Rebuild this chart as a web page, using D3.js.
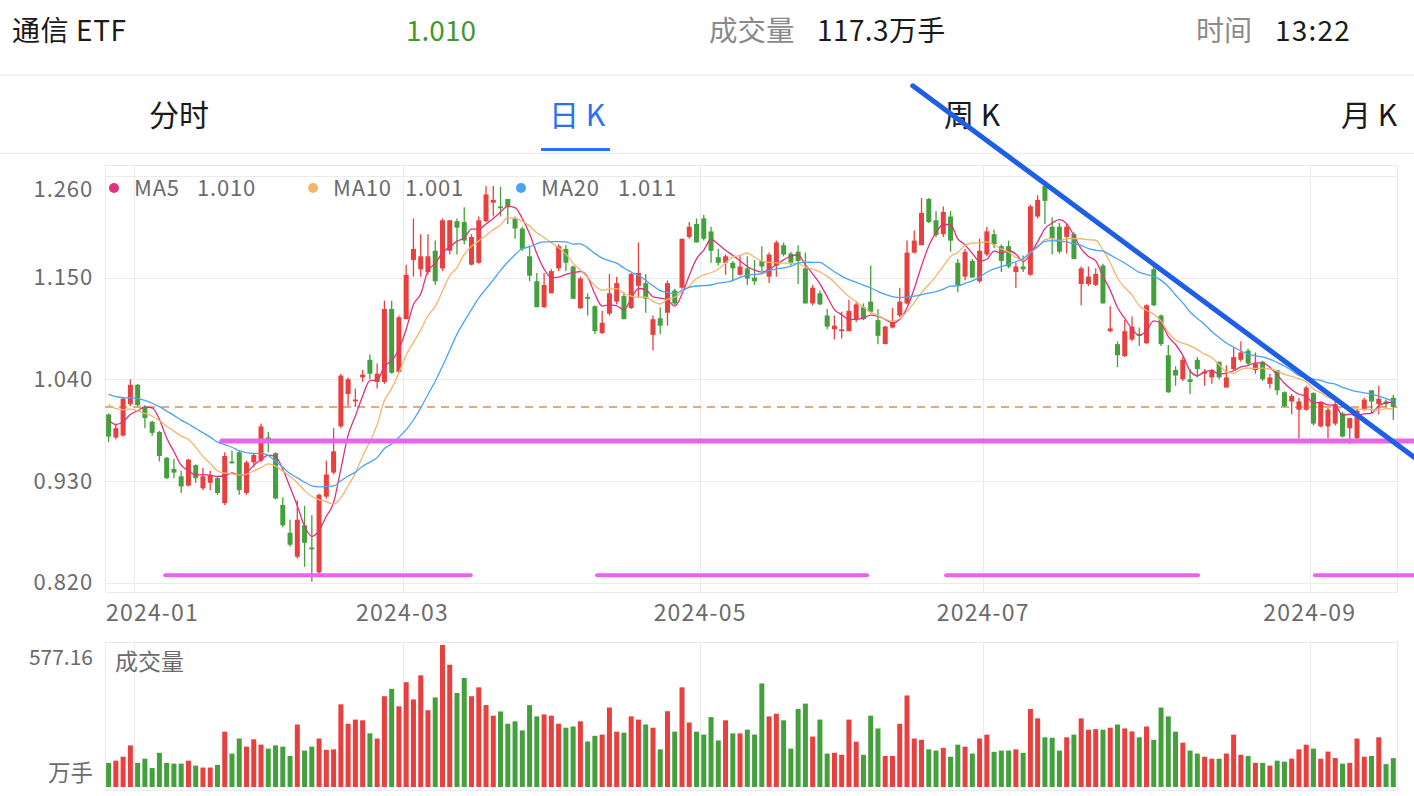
<!DOCTYPE html>
<html><head><meta charset="utf-8">
<script src="https://cdn.jsdelivr.net/npm/d3@7"></script>
<style>
html,body{margin:0;padding:0;background:#fff;}
svg{display:block;font-family:"Noto Sans CJK SC","Noto Sans",sans-serif;}
</style></head><body>
<svg id="chart" width="1414" height="796"></svg>
<script>
// ---------- data ----------
const open  = [1.002,0.977,0.979,1.013,1.034,1.010,0.994,0.983,0.955,0.943,0.935,0.925,0.947,0.922,0.928,0.933,
 0.906,0.951,0.961,0.917,0.950,0.952,0.977,0.960,0.904,0.874,0.848,0.882,0.858,0.831,0.913,0.939,0.989,
 1.024,1.016,1.042,1.061,1.037,1.037,1.116,1.048,1.105,1.169,1.159,1.156,1.179,1.160,1.179,1.211,
 1.210,1.164,1.166,1.211,1.231,1.227,1.235,1.214,1.203,1.173,1.146,1.118,1.133,1.160,1.181,1.162,1.117,
 1.129,1.119,1.090,1.111,1.124,1.130,1.117,1.141,1.144,1.088,1.106,1.112,1.136,1.139,1.194,1.208,
 1.214,1.200,1.172,1.166,1.166,1.153,1.160,1.150,1.168,1.151,1.163,1.185,1.176,1.178,1.160,1.122,1.133,
 1.109,1.094,1.092,1.092,1.105,1.118,1.124,1.104,1.078,1.096,1.109,1.122,1.177,1.185,1.235,1.212,
 1.197,1.216,1.166,1.151,1.168,1.146,1.175,1.197,1.184,1.184,1.156,1.162,1.153,1.216,1.249,1.205,1.205,
 1.194,1.197,1.143,1.143,1.142,1.163,1.092,1.078,1.065,1.083,1.089,1.079,1.159,1.109,1.066,1.050,
 1.040,1.040,1.061,1.046,1.042,1.059,1.031,1.051,1.061,1.071,1.050,1.059,1.035,1.050,1.026,1.016,1.007,
 1.007,1.025,0.989,0.989,0.992,1.003,0.987,0.976,1.007,1.028,1.013,1.016,1.020];
const high  = [1.003,0.992,1.021,1.040,1.035,1.012,0.995,0.984,0.956,0.954,0.941,0.954,0.948,0.944,0.941,0.935,
 0.961,0.963,0.963,0.952,0.959,0.992,0.983,0.961,0.912,0.888,0.909,0.903,0.893,0.916,0.952,0.987,1.046,
 1.042,1.030,1.050,1.067,1.057,1.125,1.125,1.109,1.164,1.214,1.197,1.197,1.190,1.214,1.212,1.214,
 1.226,1.197,1.216,1.249,1.249,1.248,1.235,1.216,1.205,1.184,1.155,1.155,1.159,1.186,1.185,1.163,1.151,
 1.133,1.120,1.114,1.154,1.151,1.134,1.155,1.188,1.154,1.109,1.118,1.147,1.138,1.192,1.210,1.214,
 1.218,1.205,1.181,1.175,1.168,1.173,1.173,1.169,1.184,1.177,1.190,1.188,1.178,1.185,1.177,1.142,1.136,
 1.116,1.109,1.113,1.126,1.123,1.122,1.163,1.116,1.098,1.117,1.139,1.190,1.201,1.236,1.236,1.222,
 1.227,1.222,1.170,1.181,1.170,1.192,1.205,1.202,1.186,1.190,1.166,1.174,1.229,1.239,1.251,1.215,1.209,
 1.208,1.199,1.162,1.162,1.160,1.165,1.119,1.081,1.104,1.108,1.096,1.121,1.162,1.110,1.077,1.054,
 1.064,1.051,1.064,1.051,1.051,1.059,1.055,1.074,1.081,1.073,1.069,1.060,1.046,1.050,1.027,1.024,1.020,
 1.033,1.026,1.016,1.009,1.022,1.005,0.998,1.008,1.020,1.028,1.033,1.018,1.023];
const low   = [0.972,0.975,0.978,1.011,1.011,0.987,0.979,0.951,0.932,0.933,0.917,0.924,0.928,0.920,0.920,0.915,
 0.904,0.949,0.915,0.915,0.945,0.950,0.961,0.910,0.880,0.859,0.846,0.837,0.821,0.829,0.911,0.937,0.987,
 1.011,1.010,1.037,1.040,1.030,1.035,1.046,1.047,1.105,1.151,1.151,1.153,1.142,1.157,1.175,1.175,
 1.186,1.163,1.165,1.210,1.216,1.216,1.208,1.192,1.179,1.146,1.118,1.117,1.133,1.157,1.157,1.127,1.116,
 1.109,1.089,1.089,1.109,1.121,1.105,1.116,1.129,1.112,1.071,1.089,1.098,1.120,1.138,1.192,1.188,
 1.190,1.166,1.163,1.153,1.147,1.152,1.142,1.142,1.157,1.144,1.151,1.173,1.163,1.143,1.122,1.120,1.120,
 1.094,1.083,1.084,1.092,1.102,1.104,1.111,1.078,1.078,1.095,1.107,1.121,1.176,1.185,1.209,1.194,
 1.194,1.178,1.134,1.147,1.150,1.144,1.173,1.182,1.156,1.160,1.139,1.156,1.152,1.214,1.208,1.175,1.176,
 1.176,1.170,1.120,1.141,1.141,1.122,1.091,1.053,1.064,1.081,1.076,1.078,1.119,1.076,1.025,1.033,
 1.038,1.024,1.042,1.033,1.035,1.040,1.031,1.050,1.059,1.055,1.046,1.038,1.030,1.023,1.010,1.002,0.976,
 1.006,0.990,0.988,0.976,0.990,0.977,0.970,0.975,1.006,1.003,1.002,1.010,0.996];
const close = [0.978,0.987,1.019,1.034,1.012,0.998,0.982,0.957,0.933,0.939,0.924,0.953,0.933,0.935,0.936,0.917,
 0.957,0.949,0.920,0.950,0.958,0.989,0.973,0.911,0.882,0.861,0.888,0.863,0.856,0.915,0.937,0.962,1.044,
 1.040,1.018,1.045,1.046,1.046,1.116,1.047,1.107,1.153,1.181,1.173,1.173,1.146,1.212,1.212,1.204,
 1.190,1.194,1.212,1.240,1.234,1.225,1.226,1.203,1.181,1.152,1.118,1.142,1.157,1.184,1.166,1.127,1.149,
 1.127,1.092,1.101,1.133,1.144,1.105,1.154,1.155,1.127,1.105,1.098,1.144,1.122,1.192,1.205,1.188,
 1.192,1.179,1.166,1.173,1.160,1.162,1.149,1.146,1.162,1.175,1.188,1.175,1.166,1.168,1.122,1.139,1.121,
 1.097,1.098,1.094,1.114,1.121,1.105,1.113,1.087,1.097,1.102,1.124,1.177,1.190,1.220,1.210,1.196,
 1.221,1.190,1.142,1.178,1.150,1.179,1.200,1.186,1.168,1.162,1.162,1.159,1.227,1.234,1.233,1.192,1.178,
 1.205,1.170,1.160,1.151,1.154,1.122,1.095,1.066,1.092,1.097,1.087,1.120,1.120,1.078,1.026,1.044,
 1.061,1.037,1.051,1.048,1.050,1.042,1.042,1.064,1.069,1.057,1.057,1.040,1.042,1.028,1.011,1.022,1.016,
 1.031,0.992,1.015,1.007,1.013,0.978,0.998,1.006,1.018,1.016,1.019,1.013,1.010];
const volume = [98,107,123,169,98,115,77,139,98,95,95,107,87,79,79,90,
 225,136,197,164,194,172,156,169,164,126,254,148,164,197,151,153,336,
 257,274,271,218,197,369,399,328,426,356,454,312,364,577.16,497,382,
 443,369,405,333,290,307,257,267,230,333,287,295,290,257,241,246,267,
 185,208,213,323,225,221,287,274,254,241,153,308,225,405,262,225,
 213,284,189,271,218,218,233,213,421,287,298,271,156,317,339,205,274,
 136,139,131,274,184,131,290,238,126,126,257,372,197,192,153,148,
 159,123,172,164,136,197,213,143,148,148,153,139,317,279,202,200,148,
 202,213,279,233,235,233,241,254,238,226,202,246,192,323,287,225,
 180,148,136,123,115,115,136,213,131,126,98,98,87,107,103,115,153,
 172,156,115,144,118,95,98,197,123,126,202,93,117.3];
// closes before the first visible day, used only to warm up the moving averages
const priorCloses = [1.045,1.040,1.038,1.030,1.036,1.042,1.034,1.028,1.030,1.027,
 1.035,1.031,1.028,1.030,1.026,1.012,1.004,0.995,0.991];

const tickIdx    = [4,41,82,121,166];
const tickLabels = ["2024-01","2024-03","2024-05","2024-07","2024-09"];
const priceTicks = [0.820,0.930,1.040,1.150,1.260];
const maPeriods  = [5,10,20];
const maNames    = ["MA5","MA10","MA20"];
const maLegendValues = ["1.010","1.001","1.011"];
const lastPrice  = 1.010;
const volMax     = 577.16;

// hand-drawn annotation lines (index, price)
const supportLine  = {from:15.6, to:180, price:0.9732};
const bottomSegs   = [[7.8,49.9],[67.3,104.5],[115.4,150.1],[166.2,180]];
const bottomPrice  = 0.828;
const trendLine    = [[110.8,1.3575],[180,0.9549]];

// header
const headerName = "通信 ETF", headerPrice = "1.010", volLabel = "成交量", volValue = "117.3万手", timeLabel = "时间", timeValue = "13:22";
const tabs = ["分时","日 K","周 K","月 K"];
const activeTab = 1;

// ---------- drawing ----------
const svg = d3.select("#chart");
const W = 1414;
const L = 105, R = 1397, PT = 165, PB = 592, VT = 642, VB = 790;
const RED = "#e8403f", GREEN = "#43a03c";
const C_MA = ["#e0307c","#f2b56a","#4aa3f3"];

const x = d3.scaleLinear().domain([0,177]).range([108.6,1393.3]);
const y = d3.scaleLinear().domain([0.82,1.26]).range([582.6,175.9]);
const yv = d3.scaleLinear().domain([0,volMax]).range([787,645]);

// header
const hdr = svg.append("g");
hdr.append("text").attr("x",12).attr("y",41).attr("font-size",28).attr("letter-spacing",0.6).attr("fill","#1a1a1a").text(headerName);
hdr.append("text").attr("x",441).attr("y",41).attr("text-anchor","middle").attr("font-size",28).attr("fill","#3f9a2b").text(headerPrice);
hdr.append("text").attr("x",709).attr("y",41).attr("font-size",28.5).attr("fill","#8a8a8a").text(volLabel);
hdr.append("text").attr("x",817).attr("y",41).attr("font-size",28).attr("letter-spacing",0.4).attr("fill","#1a1a1a").text(volValue);
hdr.append("text").attr("x",1196).attr("y",41).attr("font-size",28).attr("fill","#8a8a8a").text(timeLabel);
hdr.append("text").attr("x",1275).attr("y",41).attr("font-size",28).attr("letter-spacing",1.2).attr("fill","#1a1a1a").text(timeValue);
hdr.append("line").attr("x1",0).attr("x2",W).attr("y1",75).attr("y2",75).attr("stroke","#ededed").attr("stroke-width",1.5);

const tabCenters = [179,577,972,1369];
tabs.forEach((t,i)=>{
  hdr.append("text").attr("x",tabCenters[i]).attr("y",126).attr("text-anchor","middle")
    .attr("font-size",30).attr("fill", i===activeTab ? "#2a6ff5" : "#1a1a1a").text(t);
});
hdr.append("rect").attr("x",541).attr("y",148).attr("width",69).attr("height",3).attr("fill","#2a6ff5");
hdr.append("line").attr("x1",0).attr("x2",W).attr("y1",153.5).attr("y2",153.5).attr("stroke","#ededed").attr("stroke-width",1.5);

// price panel frame and grid
const grid = svg.append("g").attr("stroke","#ebebeb").attr("stroke-width",1);
grid.append("rect").attr("x",L+0.5).attr("y",PT+0.5).attr("width",R-L).attr("height",PB-PT).attr("fill","none");
priceTicks.forEach(p=>{
  grid.append("line").attr("x1",L).attr("x2",R).attr("y1",Math.round(y(p))+0.5).attr("y2",Math.round(y(p))+0.5);
});
tickIdx.forEach(i=>{
  const gx = Math.round(x(i-0.5))+0.5;
  grid.append("line").attr("x1",gx).attr("x2",gx).attr("y1",PT).attr("y2",PB);
  grid.append("line").attr("x1",gx).attr("x2",gx).attr("y1",VT).attr("y2",VB);
});
grid.append("rect").attr("x",L+0.5).attr("y",VT+0.5).attr("width",R-L).attr("height",VB-VT).attr("fill","none");

// y labels
const axisG = svg.append("g").attr("fill","#6b6b6b");
priceTicks.forEach(p=>{
  let cy = y(p);
  if (cy < 189) cy = 189;
  axisG.append("text").attr("x",93).attr("y",cy).attr("dy","0.35em").attr("text-anchor","end")
    .attr("font-size",22).attr("letter-spacing",0.9).text(p.toFixed(3));
});
// x labels (clamped inside the panel)
tickIdx.forEach((i,k)=>{
  const t = axisG.append("text").attr("y",613).attr("dy","0.35em").attr("text-anchor","middle")
    .attr("font-size",23).attr("letter-spacing",1.2).text(tickLabels[k]);
  const w = t.node().getComputedTextLength();
  let cx = x(i-0.5);
  if (cx - w/2 < L+1) cx = L+1+w/2;
  t.attr("x",cx);
});
// volume labels
axisG.append("text").attr("x",93).attr("y",658).attr("dy","0.35em").attr("text-anchor","end").attr("font-size",21).text(volMax.toFixed(2));
axisG.append("text").attr("x",93).attr("y",773).attr("dy","0.35em").attr("text-anchor","end").attr("font-size",22.5).text("万手");
axisG.append("text").attr("x",115).attr("y",662).attr("dy","0.35em").attr("font-size",23).text(volLabel);

// clip
svg.append("clipPath").attr("id","pclip").append("rect").attr("x",L).attr("y",PT).attr("width",R-L).attr("height",PB-PT);
const plot = svg.append("g").attr("clip-path","url(#pclip)");

const idx = d3.range(close.length);
const bw = 5;
const col = i => close[i] >= open[i] ? RED : GREEN;

// last price dashed line
plot.append("line").attr("x1",L).attr("x2",R).attr("y1",y(lastPrice)).attr("y2",y(lastPrice))
  .attr("stroke","#ee8a3a").attr("stroke-width",1.5).attr("stroke-dasharray","8,6");

// candles
const cg = plot.append("g");
cg.selectAll("line.w").data(idx).join("line")
  .attr("x1",i=>x(i)).attr("x2",i=>x(i)).attr("y1",i=>y(high[i])).attr("y2",i=>y(low[i]))
  .attr("stroke",col).attr("stroke-width",1.3);
cg.selectAll("rect.b").data(idx).join("rect")
  .attr("x",i=>x(i)-bw/2).attr("width",bw)
  .attr("y",i=>y(Math.max(open[i],close[i])))
  .attr("height",i=>Math.max(1.2, Math.abs(y(open[i])-y(close[i]))))
  .attr("fill",col);

// moving averages
const allCloses = priorCloses.concat(close);
const off = priorCloses.length;
maPeriods.forEach((n,k)=>{
  const vals = idx.map(i=>d3.mean(allCloses.slice(i+off-n+1, i+off+1)));
  const line = d3.line().x((d,i)=>x(i)).y(d=>y(d)).curve(d3.curveMonotoneX);
  plot.append("path").datum(vals).attr("d",line).attr("fill","none").attr("stroke",C_MA[k]).attr("stroke-width",1.3);
});

// legend
const leg = svg.append("g").attr("fill","#6b6b6b").attr("font-size",22).attr("letter-spacing",0.8);
const legX = [114,313,521];
const legValX = [197,405,618];
maNames.forEach((n,k)=>{
  leg.append("circle").attr("cx",legX[k]).attr("cy",188).attr("r",5).attr("fill",C_MA[k]);
  leg.append("text").attr("x",legX[k]+20).attr("y",188).attr("dy","0.35em").text(n);
  leg.append("text").attr("x",legValX[k]).attr("y",188).attr("dy","0.35em").text(maLegendValues[k]);
});

// volume bars
svg.append("g").selectAll("rect").data(idx).join("rect")
  .attr("x",i=>x(i)-bw/2).attr("width",bw)
  .attr("y",i=>yv(volume[i])).attr("height",i=>yv(0)-yv(volume[i]))
  .attr("fill",col);

// annotations (user drawn)
const ann = svg.append("g").attr("stroke-linecap","round");
const MAG = "#e963f0";
ann.append("line").attr("x1",x(supportLine.from)).attr("x2",Math.min(W,x(supportLine.to)))
  .attr("y1",y(supportLine.price)).attr("y2",y(supportLine.price)).attr("stroke",MAG).attr("stroke-width",5);
bottomSegs.forEach(s=>{
  ann.append("line").attr("x1",x(s[0])).attr("x2",x(s[1])).attr("y1",y(bottomPrice)).attr("y2",y(bottomPrice))
    .attr("stroke",MAG).attr("stroke-width",4);
});
ann.append("line").attr("x1",x(trendLine[0][0])).attr("y1",y(trendLine[0][1]))
  .attr("x2",x(trendLine[1][0])).attr("y2",y(trendLine[1][1]))
  .attr("stroke","#1f5fe8").attr("stroke-width",5);
</script>
</body></html>
